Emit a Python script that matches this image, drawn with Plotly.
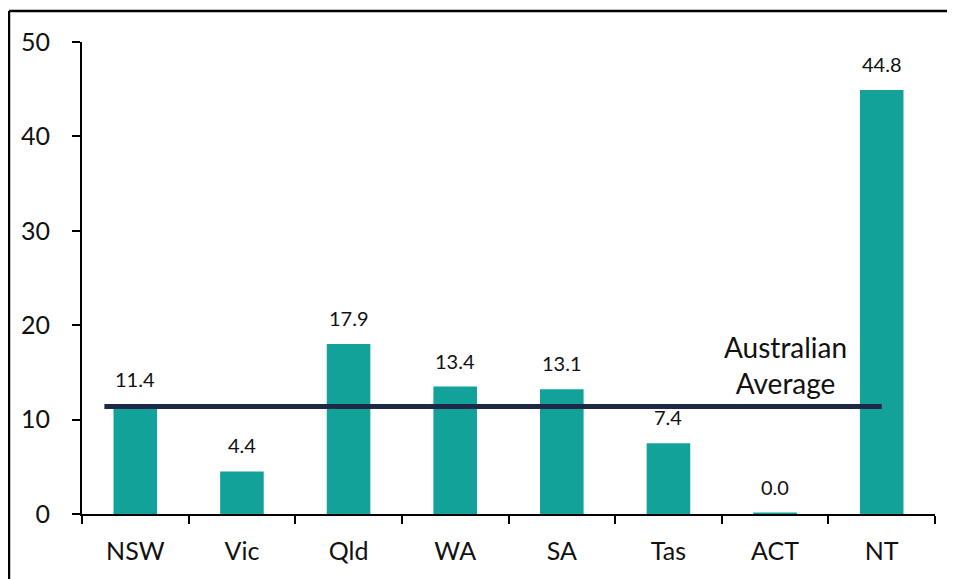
import plotly.graph_objects as go

states = ["NSW", "Vic", "Qld", "WA", "SA", "Tas", "ACT", "NT"]
values = [11.4, 4.4, 17.9, 13.4, 13.1, 7.4, 0.04, 44.8]
value_labels = ["11.4", "4.4", "17.9", "13.4", "13.1", "7.4", "0.0", "44.8"]
australian_average = 11.4
y_ticks = [0, 10, 20, 30, 40, 50]

TEAL = "#13A29A"
NAVY = "#1C2845"
FONT = "Lato, 'Open Sans', sans-serif"

fig = go.Figure()
fig.add_trace(go.Bar(
    x=states, y=values, width=0.39,
    marker=dict(color=TEAL, line=dict(color=TEAL, width=2)),
    hoverinfo="skip",
))

for s, v, t in zip(states, values, value_labels):
    fig.add_annotation(x=s, y=v, text=t, showarrow=False, yanchor="bottom",
                       yshift=13, font=dict(size=20, color="#111111", family=FONT))

# Australian average line
fig.add_shape(type="line", xref="x", yref="y", x0=-0.29, x1=7.0,
              y0=australian_average, y1=australian_average,
              line=dict(color=NAVY, width=5), layer="above")
fig.add_annotation(x=6.1, y=15.8, text="Australian<br>Average", showarrow=False,
                   font=dict(size=28, color="#111111", family=FONT))

# outer frame (top and left edges; the rest lies outside the picture)
fig.add_shape(type="line", xref="paper", yref="paper",
              x0=-0.0856, x1=1.2, y0=1.0657, y1=1.0657,
              line=dict(color="black", width=2.5))
fig.add_shape(type="line", xref="paper", yref="paper",
              x0=-0.0856, x1=-0.0856, y0=-0.3, y1=1.0657,
              line=dict(color="black", width=2.5))

fig.update_layout(
    width=955, height=579,
    margin=dict(l=74, r=28, t=34, b=73),
    paper_bgcolor="white", plot_bgcolor="white",
    showlegend=False,
    font=dict(family=FONT, color="#111111"),
    bargap=0.6,
)
fig.update_xaxes(
    type="category", tickson="boundaries",
    showline=True, linecolor="black", linewidth=2,
    ticks="outside", ticklen=8, tickwidth=2, tickcolor="black",
    tickfont=dict(size=25, family=FONT, color="#111111"),
    ticklabelstandoff=14, showgrid=False, zeroline=False,
    range=[-0.5, 7.5],
)
fig.update_yaxes(
    range=[0, 50], tickvals=y_ticks,
    showline=True, linecolor="black", linewidth=2,
    ticks="outside", ticklen=8, tickwidth=2, tickcolor="black",
    tickfont=dict(size=25, family=FONT, color="#111111"),
    ticklabelstandoff=17, showgrid=False, zeroline=False,
)

fig.write_html("out.html")
